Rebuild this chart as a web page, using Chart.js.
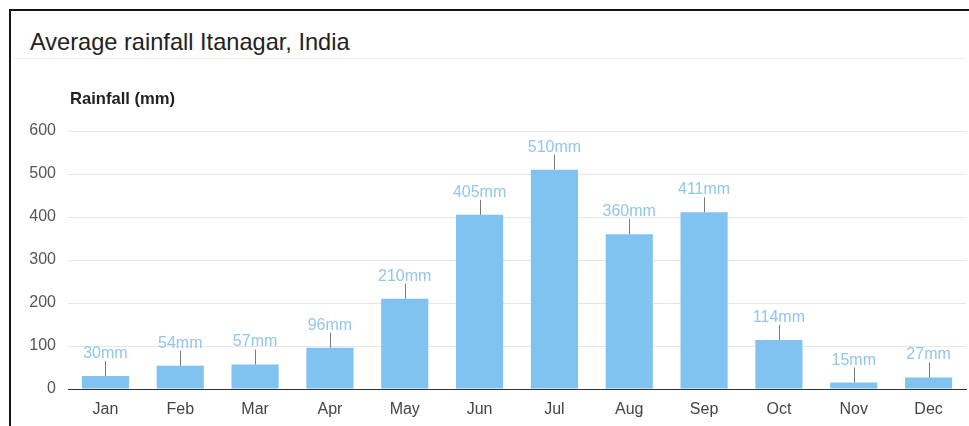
<!DOCTYPE html>
<html>
<head>
<meta charset="utf-8">
<title>Average rainfall Itanagar, India</title>
<script src="https://cdn.jsdelivr.net/npm/chart.js@4.4.0/dist/chart.umd.min.js"></script>
<style>
    body { margin: 0; background: #fff; font-family: "Liberation Sans", Arial, sans-serif; }
    #wrap { position: relative; width: 969px; height: 426px; overflow: hidden; }
    #card { position: absolute; left: 9px; top: 9px; width: 1100px; height: 600px;
            border-left: 2px solid #151515; border-top: 2px solid #151515; }
    #title { position: absolute; left: 30px; top: 31px; font-size: 23.6px; line-height: 1; color: #222; white-space: nowrap; }
    #sep { position: absolute; left: 14px; top: 58px; width: 952px; height: 1px; background: #ececec; }
    #ylabel { position: absolute; left: 70px; top: 91px; font-size: 16.6px; line-height: 1; font-weight: bold; color: #222; white-space: nowrap; }
    #box { position: absolute; left: 0; top: 0; width: 969px; height: 426px; }
</style>
</head>
<body>
<div id="wrap">
    <div id="card"></div>
    <div id="title">Average rainfall Itanagar, India</div>
    <div id="sep"></div>
    <div id="box"><canvas id="bar-Chart"></canvas></div>
    <div id="ylabel">Rainfall (mm)</div>
</div>
<script>
var mesi = ['Jan','Feb','Mar','Apr','May','Jun','Jul','Aug','Sep','Oct','Nov','Dec'];
var pioggia = [30, 54, 57, 96, 210, 405, 510, 360, 411, 114, 15, 27];
var yTicks = [0, 100, 200, 300, 400, 500, 600];

// etichette "NNmm" sopra le barre, con la lineetta grigia
var etichette = {
    id: 'etichette',
    afterDatasetsDraw: function (chart) {
        var ctx = chart.ctx;
        var meta = chart.getDatasetMeta(0);
        ctx.save();
        meta.data.forEach(function (bar, i) {
            var x = Math.round(bar.x) + 0.5;
            ctx.strokeStyle = '#7a7a7a';
            ctx.lineWidth = 1;
            ctx.beginPath();
            ctx.moveTo(x, bar.y);
            ctx.lineTo(x, bar.y - 15);
            ctx.stroke();
            ctx.fillStyle = '#92c6ea';
            ctx.font = '16px "Liberation Sans", Arial, sans-serif';
            ctx.textAlign = 'center';
            ctx.textBaseline = 'alphabetic';
            ctx.fillText(pioggia[i] + 'mm', bar.x, bar.y - 18);
        });
        ctx.restore();
    }
};

var ctx = document.getElementById('bar-Chart');
var chart = new Chart(ctx, {
    type: 'bar',
    data: {
        labels: mesi,
        datasets: [{
            label: 'Rainfall (mm)',
            backgroundColor: '#80c3f1',
            borderWidth: 0,
            data: pioggia,
            categoryPercentage: 1,
            barPercentage: 0.63
        }]
    },
    options: {
        responsive: true,
        maintainAspectRatio: false,
        animation: false,
        layout: { padding: { top: 131, right: 3, left: 0, bottom: 0 } },
        plugins: {
            legend: { display: false },
            tooltip: { enabled: false }
        },
        scales: {
            x: {
                grid: { display: false, drawTicks: false },
                border: { color: '#333', width: 1 },
                ticks: {
                    padding: 11,
                    color: '#444',
                    font: { family: '"Liberation Sans", Arial, sans-serif', size: 16 }
                },
                afterFit: function (s) { s.height = 37; }
            },
            y: {
                min: yTicks[0],
                max: yTicks[yTicks.length - 1],
                border: { display: false },
                grid: {
                    drawTicks: false,
                    color: function (c) { return c.tick.value % 100 === 0 ? '#e6e6e6' : '#f5f5f5'; }
                },
                ticks: {
                    stepSize: 50,
                    padding: 12,
                    color: '#555',
                    font: { family: '"Liberation Sans", Arial, sans-serif', size: 16 },
                    callback: function (v) { return yTicks.indexOf(v) >= 0 ? v : ''; }
                },
                afterFit: function (s) { s.width = 68; }
            }
        }
    },
    plugins: [etichette]
});
</script>
</body>
</html>
